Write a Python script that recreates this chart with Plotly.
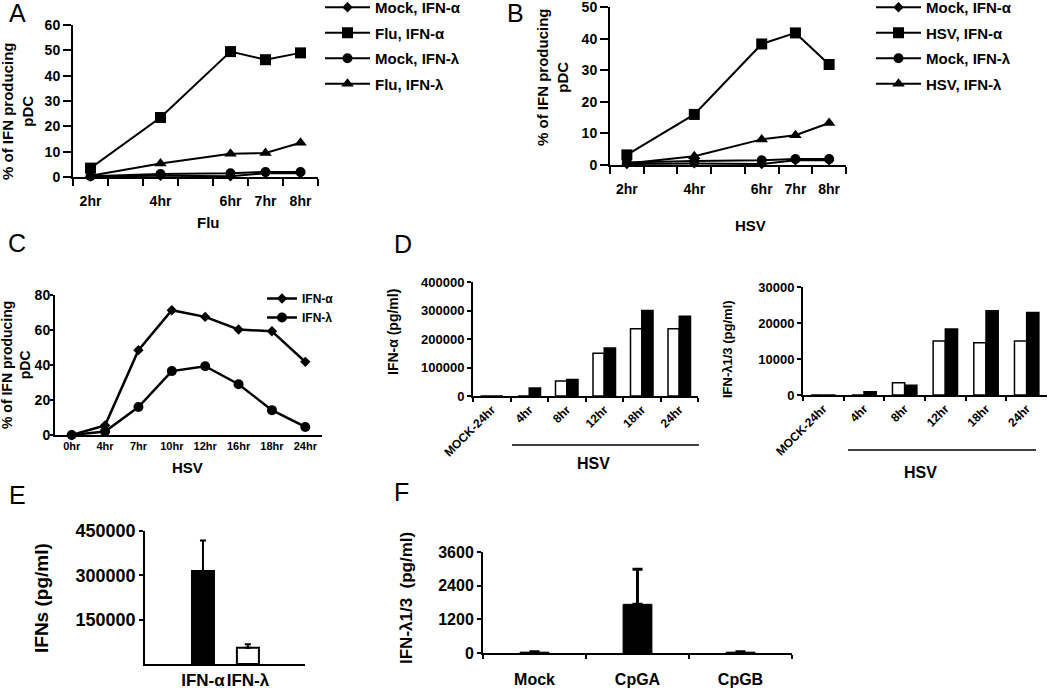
import plotly.graph_objects as go

W, H = 1050, 693
FONT = "Arial, 'Liberation Sans', sans-serif"

# ---- data ----
hours = [2, 4, 6, 7, 8]
hour_labels = ["2hr", "4hr", "6hr", "7hr", "8hr"]

a_mock_alpha = [0.2, 0.5, 0.3, 1.5, 1.5]
a_flu_alpha = [3.5, 23.5, 49.5, 46.3, 49.0]
a_mock_lambda = [0.3, 1.2, 1.5, 2.0, 2.0]
a_flu_lambda = [0.5, 5.3, 9.2, 9.5, 13.5]

b_mock_alpha = [0.3, 0.5, 0.3, 1.5, 1.5]
b_hsv_alpha = [3.2, 16.0, 38.3, 41.8, 31.8]
b_mock_lambda = [0.8, 1.3, 1.5, 1.9, 1.9]
b_hsv_lambda = [0.5, 2.8, 8.1, 9.4, 13.3]

c_times = ["0hr", "4hr", "7hr", "10hr", "12hr", "16hr", "18hr", "24hr"]
c_alpha = [0, 5.5, 48.5, 71.3, 67.5, 60.3, 59.3, 41.8]
c_lambda = [0, 2.0, 16.0, 36.5, 39.3, 29.0, 14.2, 4.6]

d_cats = ["MOCK-24hr", "4hr", "8hr", "12hr", "18hr", "24hr"]
d_alpha_white = [0, 0, 53000, 150000, 236000, 236000]
d_alpha_black = [0, 28000, 58000, 168000, 300000, 280000]
d_lambda_white = [0, 0, 3400, 15000, 14500, 15000]
d_lambda_black = [0, 900, 2700, 18300, 23400, 22900]

e_cats = ["IFN-α", "IFN-λ"]
e_vals = [315000, 55000]
e_err = [103000, 12000]

f_cats = ["Mock", "CpGA", "CpGB"]
f_vals = [30, 1735, 30]
f_err = [15, 1250, 15]


def px_x(l, r):
    return [l / W, r / W]


def px_y(top, bottom):
    return [1 - bottom / H, 1 - top / H]


def bold(size):
    return dict(family=FONT, size=size, color="black", weight="bold")


def ax(**kw):
    base = dict(showline=True, linecolor="black", linewidth=2, showgrid=False,
                zeroline=False, ticks="outside", ticklen=5, tickwidth=2,
                tickcolor="black", tickfont=bold(14), ticklabeloverflow="allow")
    base.update(kw)
    return base


fig = go.Figure()

# ---- panel A / B line charts ----
def hour_lines(xa, ya, legend, names, series):
    syms = [("diamond", 8), ("square", 11), ("circle", 10), ("triangle-up", 11)]
    for name, ys, (sym, sz) in zip(names, series, syms):
        fig.add_trace(go.Scatter(
            x=hours, y=ys, name=name, mode="lines+markers", xaxis=xa, yaxis=ya,
            legend=legend, legendgroup=legend + name, cliponaxis=False,
            line=dict(color="black", width=2),
            marker=dict(symbol=sym, size=sz, color="black")))

hour_lines("x", "y", "legend", ["Mock, IFN-α", "Flu, IFN-α", "Mock, IFN-λ", "Flu, IFN-λ"],
           [a_mock_alpha, a_flu_alpha, a_mock_lambda, a_flu_lambda])
hour_lines("x2", "y2", "legend2", ["Mock, IFN-α", "HSV, IFN-α", "Mock, IFN-λ", "HSV, IFN-λ"],
           [b_mock_alpha, b_hsv_alpha, b_mock_lambda, b_hsv_lambda])

# ---- panel C ----
fig.add_trace(go.Scatter(x=c_times, y=c_alpha, name="IFN-α", mode="lines+markers",
                         xaxis="x3", yaxis="y3", legend="legend3", cliponaxis=False,
                         line=dict(color="black", width=2.5),
                         marker=dict(symbol="diamond", size=8, color="black")))
fig.add_trace(go.Scatter(x=c_times, y=c_lambda, name="IFN-λ", mode="lines+markers",
                         xaxis="x3", yaxis="y3", legend="legend3", cliponaxis=False,
                         line=dict(color="black", width=2.5),
                         marker=dict(symbol="circle", size=10, color="black")))

# ---- panel D ----
bar_white = dict(color="white", line=dict(color="black", width=1.5))
bar_black = dict(color="black", line=dict(color="black", width=1.5))
fig.add_trace(go.Bar(x=d_cats, y=d_alpha_white, xaxis="x4", yaxis="y4", marker=bar_white, showlegend=False))
fig.add_trace(go.Bar(x=d_cats, y=d_alpha_black, xaxis="x4", yaxis="y4", marker=bar_black, showlegend=False))
fig.add_trace(go.Bar(x=d_cats, y=d_lambda_white, xaxis="x5", yaxis="y5", marker=bar_white, showlegend=False))
fig.add_trace(go.Bar(x=d_cats, y=d_lambda_black, xaxis="x5", yaxis="y5", marker=bar_black, showlegend=False))

# ---- panel E ----
fig.add_trace(go.Bar(x=e_cats, y=e_vals, xaxis="x6", yaxis="y6", width=0.49, showlegend=False,
                     marker=dict(color=["black", "white"], line=dict(color="black", width=2)),
                     error_y=dict(type="data", array=e_err, arrayminus=[0, 0], symmetric=False,
                                  color="black", thickness=2, width=3)))

# ---- panel F ----
fig.add_trace(go.Bar(x=f_cats, y=f_vals, xaxis="x7", yaxis="y7", width=0.28, showlegend=False,
                     marker=dict(color="black", line=dict(color="black", width=1)),
                     error_y=dict(type="data", array=f_err, arrayminus=[0, 0, 0], symmetric=False,
                                  color="black", thickness=3, width=5)))

hour_minor = dict(tickvals=[1.5, 2.5, 3.5, 4.5, 5.5, 6.5, 7.5, 8.5], ticks="outside",
                  ticklen=7, tickwidth=2, tickcolor="black", showgrid=False)

fig.update_layout(
    width=W, height=H, margin=dict(l=0, r=0, t=0, b=0, autoexpand=False),
    paper_bgcolor="white", plot_bgcolor="white",
    font=dict(family=FONT, color="black"),
    barmode="group", bargap=0.4, bargroupgap=0,
    xaxis=ax(domain=px_x(73, 318), anchor="y", range=[1.5, 8.5], tickvals=hours,
             ticktext=hour_labels, ticks="", ticklabelstandoff=10, minor=hour_minor),
    yaxis=ax(domain=px_y(25, 177), anchor="x", range=[0, 60], dtick=10, ticklen=8),
    xaxis2=ax(domain=px_x(610, 846), anchor="y2", range=[1.5, 8.5], tickvals=hours,
              ticktext=hour_labels, ticks="", ticklabelstandoff=10, minor=hour_minor),
    yaxis2=ax(domain=px_y(7, 165), anchor="x2", range=[0, 50], dtick=10, ticklen=8),
    xaxis3=ax(domain=px_x(55, 322), anchor="y3", ticks="", range=[-0.5, 7.5], tickfont=bold(11)),
    yaxis3=ax(domain=px_y(295, 435), anchor="x3", range=[0, 80], dtick=20, ticklen=3,
              ticklabelstandoff=-3),
    xaxis4=ax(domain=px_x(473, 698), anchor="y4", tickson="boundaries", ticklen=4,
              tickangle=-45, tickfont=bold(12)),
    yaxis4=ax(domain=px_y(282, 396), anchor="x4", range=[0, 400000], dtick=100000,
              tickformat="d", ticklen=4, tickfont=bold(13)),
    xaxis5=ax(domain=px_x(803, 1047), anchor="y5", tickson="boundaries", ticklen=4,
              tickangle=-45, tickfont=bold(12)),
    yaxis5=ax(domain=px_y(287, 395), anchor="x5", range=[0, 30000], dtick=10000,
              tickformat="d", ticklen=4, tickfont=bold(13)),
    xaxis6=ax(domain=px_x(145, 305), anchor="y6", range=[-1.29, 2.27], ticks="",
              tickangle=0, linewidth=1.5, tickfont=bold(17)),
    yaxis6=ax(domain=px_y(531, 664), anchor="x6", range=[0, 450000], linewidth=1.5,
              tickvals=[150000, 300000, 450000], tickformat="d", ticklen=4, tickwidth=1.5,
              tickfont=bold(18)),
    xaxis7=ax(domain=px_x(483, 792), anchor="y7", range=[-0.5, 2.5], tickson="boundaries",
              ticklen=4, ticklabelstandoff=11, tickangle=0, tickfont=bold(16)),
    yaxis7=ax(domain=px_y(552, 653), anchor="x7", range=[0, 3600], dtick=1200, ticklen=4,
              tickfont=bold(16)),
    legend=dict(x=320 / W, y=1 + 9 / H, xanchor="left", yanchor="top", itemwidth=45,
                tracegroupgap=3, font=bold(15), bgcolor="rgba(0,0,0,0)"),
    legend2=dict(x=871 / W, y=1 + 9 / H, xanchor="left", yanchor="top", itemwidth=45,
                 tracegroupgap=3, font=bold(15), bgcolor="rgba(0,0,0,0)"),
    legend3=dict(x=262 / W, y=1 - 284 / H, xanchor="left", yanchor="top", itemwidth=30,
                 font=bold(12), bgcolor="rgba(0,0,0,0)"),
)


def note(text, x, y, size=15, weight="bold", angle=0):
    fig.add_annotation(text=text, x=x / W, y=1 - y / H, xref="paper", yref="paper",
                       xanchor="center", yanchor="middle", showarrow=False, textangle=angle,
                       font=dict(family=FONT, size=size, color="black", weight=weight))


# panel letters
for letter, x, y in [("A", 17, 13), ("B", 515, 13), ("C", 17, 243),
                     ("D", 403, 244), ("E", 17, 495), ("F", 401, 492)]:
    note(letter, x, y, size=25, weight="normal")

# x titles
note("Flu", 208, 222)
note("HSV", 750, 225)
note("HSV", 187, 467)
note("HSV", 593, 463, size=16)
note("HSV", 920, 472, size=16)

# y titles
note("% of IFN producing<br>pDC", 17, 112, size=15, angle=-90)
note("% of IFN producing<br>pDC", 553, 78, size=15, angle=-90)
note("% of IFN producing<br>pDC", 16, 365, size=14, angle=-90)
note("IFN-α (pg/ml)", 393, 332, size=14, angle=-90)
note("IFN-λ1/3 (pg/ml)", 727, 349, size=13, angle=-90)
note("IFNs (pg/ml)", 41, 598, size=19, angle=-90)
note("IFN-λ1/3  (pg/ml)", 406, 598, size=17, angle=-90)

# HSV bracket lines under panel D
for x0, x1, y in [(512, 699, 445), (848, 1036, 450)]:
    fig.add_shape(type="line", xref="paper", yref="paper", x0=x0 / W, x1=x1 / W,
                  y0=1 - y / H, y1=1 - y / H, line=dict(color="black", width=1.5))

# drop the browser's default page margin so the figure sits at the top-left corner
fig.write_html("out.html", config={"displayModeBar": False},
               post_script="document.body.style.margin='0';")
